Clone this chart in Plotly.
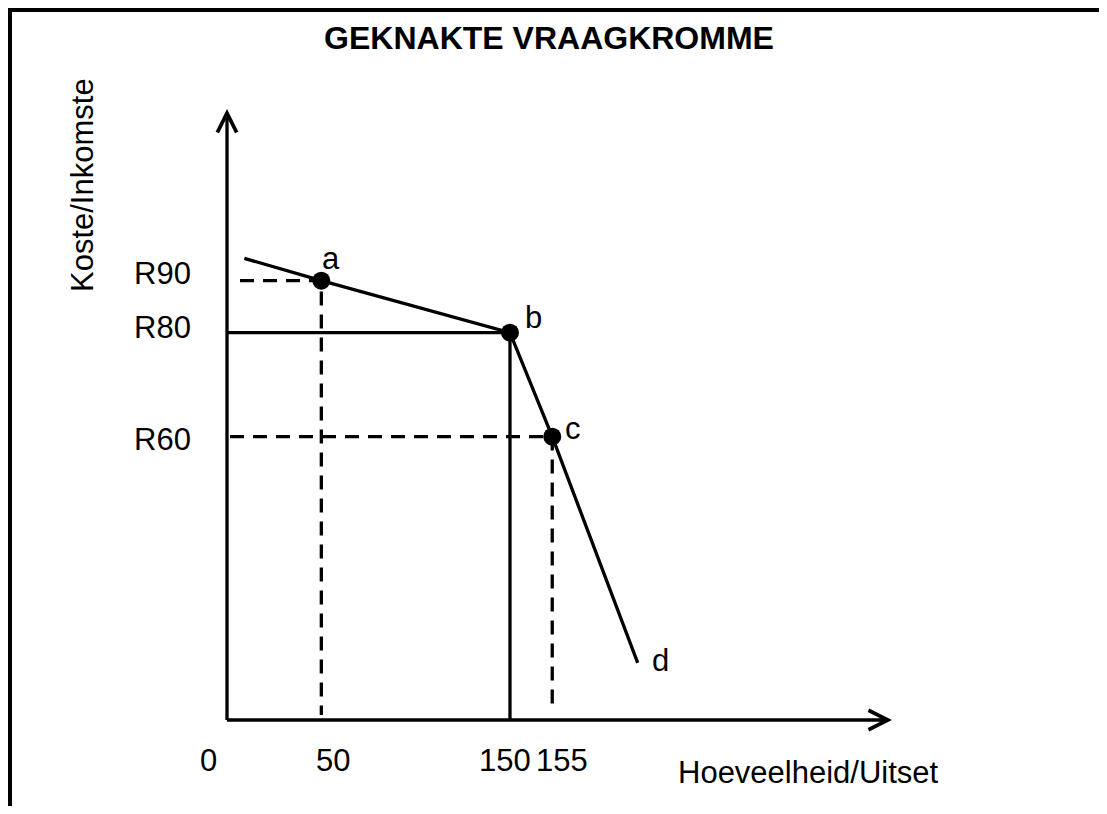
import plotly.graph_objects as go

# ---------------- data ----------------
W, H = 1099, 798               # figure fits inside the window (body margin 8px)
PAGE_OFFSET = 8                 # browser body margin around the figure
M_L, M_R, M_T, M_B = 219, 215, 101, 86

x_range = [0, 352.5]          # diagram quantity axis
y_range = [5.52, 123.02]      # diagram price axis

title_text = "GEKNAKTE VRAAGKROMME"
x_title = "Hoeveelheid/Uitset"
y_title = "Koste/Inkomste"

# kinked demand curve (start, a, b, c, end d) in diagram units
demand_x = [9.2, 50, 150, 172.4, 217.7]
demand_y = [94.3, 90, 80, 60, 16.5]

# marked points a, b, c
point_names = ["a", "b", "c"]
point_x = [50, 150, 172.4]
point_y = [90, 80, 60]

# end label d
end_name = "d"
end_x = 217.7
end_y = 16.5

# price tick labels
price_labels = ["R90", "R80", "R60"]
price_values = [90, 80, 60]

# quantity tick labels and where they sit on the diagram axis
quantity_labels = ["0", "50", "150", "155"]
quantity_values = [0, 50, 150, 172.4]

# guide lines
solid_guide_x = [0, 150, 150]
solid_guide_y = [80, 80, y_range[0]]
dash_a_x = [6.9, 50, 50]
dash_a_y = [90, 90, 6.5]
dash_c_x = [1.6, 172.4, 172.4]
dash_c_y = [60, 60, 8.2]

FONT = "Liberation Sans, Arial, sans-serif"
FS = 31

fig = go.Figure()

line_style = dict(color="black", width=3.3)
dash_style = dict(color="black", width=3.3, dash="14px,9px")

fig.add_trace(go.Scatter(x=solid_guide_x, y=solid_guide_y, mode="lines",
                         line=line_style, hoverinfo="skip"))
fig.add_trace(go.Scatter(x=dash_a_x, y=dash_a_y, mode="lines",
                         line=dash_style, hoverinfo="skip"))
fig.add_trace(go.Scatter(x=dash_c_x, y=dash_c_y, mode="lines",
                         line=dash_style, hoverinfo="skip"))
fig.add_trace(go.Scatter(x=demand_x, y=demand_y, mode="lines",
                         line=line_style, hoverinfo="skip"))
fig.add_trace(go.Scatter(x=point_x, y=point_y, mode="markers",
                         marker=dict(color="black", size=18), cliponaxis=False,
                         hoverinfo="skip"))

pw = W - M_L - M_R
ph = H - M_T - M_B
ux = pw / (x_range[1] - x_range[0])
uy = ph / (y_range[1] - y_range[0])

annotations = []

# axis arrows
annotations.append(dict(x=0, y=y_range[1], ax=0, ay=y_range[0] - 1.6 / uy,
                        xref="x", yref="y", axref="x", ayref="y", text="",
                        showarrow=True, arrowhead=5, arrowsize=1.15, arrowwidth=3.3,
                        arrowcolor="black", standoff=0))
annotations.append(dict(x=x_range[1], y=y_range[0], ax=-1.6 / ux, ay=y_range[0],
                        xref="x", yref="y", axref="x", ayref="y", text="",
                        showarrow=True, arrowhead=5, arrowsize=1.15, arrowwidth=3.3,
                        arrowcolor="black", standoff=0))

txt = dict(family=FONT, size=FS, color="black")

# point labels
label_shifts = [(9.3, 22.3), (23.3, 15.2), (20.7, 8.3)]
for name, px, py, (sx, sy) in zip(point_names, point_x, point_y, label_shifts):
    annotations.append(dict(x=px, y=py, xref="x", yref="y", text=name,
                            showarrow=False, xshift=sx, yshift=sy, font=txt))
annotations.append(dict(x=end_x, y=end_y, xref="x", yref="y", text=end_name,
                        showarrow=False, xshift=22.3, yshift=2.7, font=txt))

# price labels
price_shifts = [7.7, 5.2, -2.3]
for lab, v, sy in zip(price_labels, price_values, price_shifts):
    annotations.append(dict(x=0, y=v, xref="x", yref="y", text=lab,
                            showarrow=False, xanchor="right", xshift=-34,
                            yshift=sy, font=txt))

# quantity labels
q_shifts = [-19, 11.7, -5, 9.7]
for lab, v, sx in zip(quantity_labels, quantity_values, q_shifts):
    annotations.append(dict(x=v, y=y_range[0], xref="x", yref="y", text=lab,
                            showarrow=False, xshift=sx, yshift=-40, font=txt))

# axis titles
annotations.append(dict(x=x_range[1], y=y_range[0], xref="x", yref="y",
                        text=x_title, showarrow=False, xanchor="right",
                        xshift=48.7, yshift=-52, font=txt))
annotations.append(dict(x=0, y=108.4, xref="x", yref="y", text=y_title,
                        showarrow=False, textangle=-90, xshift=-145, font=txt))

# frame (top and left border of the figure), in figure pixels
def px2paper_x(p):
    return (p - M_L) / pw

def px2paper_y(p):
    return 1 - (p - M_T) / ph

shapes = [
    dict(type="line", xref="paper", yref="paper",
         x0=px2paper_x(0), x1=px2paper_x(W), y0=px2paper_y(2), y1=px2paper_y(2),
         line=dict(color="black", width=4)),
    dict(type="line", xref="paper", yref="paper",
         x0=px2paper_x(2), x1=px2paper_x(2), y0=px2paper_y(0), y1=px2paper_y(H),
         line=dict(color="black", width=4)),
]

axis_common = dict(showgrid=False, zeroline=False, showticklabels=False,
                   showline=False, ticks="", fixedrange=True)

fig.update_layout(
    width=W, height=H,
    margin=dict(l=M_L, r=M_R, t=M_T, b=M_B),
    paper_bgcolor="white", plot_bgcolor="white",
    showlegend=False,
    title=dict(text="<b>" + title_text + "</b>", x=(549 - PAGE_OFFSET) / W,
               xanchor="center", y=1 - (38 - PAGE_OFFSET) / H, yanchor="middle",
               font=dict(family=FONT, size=32, color="black")),
    xaxis=dict(range=x_range, **axis_common),
    yaxis=dict(range=y_range, **axis_common),
    annotations=annotations,
    shapes=shapes,
)

fig.write_html("out.html")
